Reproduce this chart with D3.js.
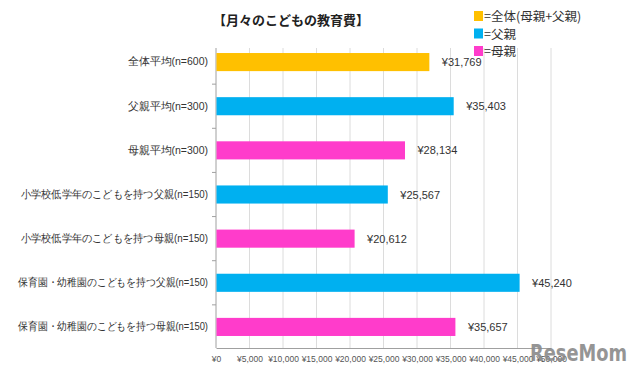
<!DOCTYPE html>
<html><head><meta charset="utf-8">
<script src="https://cdn.jsdelivr.net/npm/d3@7"></script>
<style>
body{margin:0;background:#fff;}
svg{display:block;font-family:"Noto Sans CJK JP","Noto Sans",sans-serif;}
</style></head>
<body><svg id="chart" width="640" height="374"></svg>
<script>
// categories (top to bottom), values in yen, series group
const categories = [
  "全体平均(n=600)",
  "父親平均(n=300)",
  "母親平均(n=300)",
  "小学校低学年のこどもを持つ父親(n=150)",
  "小学校低学年のこどもを持つ母親(n=150)",
  "保育園・幼稚園のこどもを持つ父親(n=150)",
  "保育園・幼稚園のこどもを持つ母親(n=150)"
];
const values = [31769, 35403, 28134, 25567, 20612, 45240, 35657];
const groups = ["all", "father", "mother", "father", "mother", "father", "mother"];
const xTicks = [0, 5000, 10000, 15000, 20000, 25000, 30000, 35000, 40000, 45000, 50000];
const legendItems = [
  {key: "all", label: "=全体(母親+父親)"},
  {key: "father", label: "=父親"},
  {key: "mother", label: "=母親"}
];
const colors = {all: "#FFC000", father: "#00B0F0", mother: "#FF3CCB"};

const svg = d3.select("#chart");
const plotL = 216, plotR = 551, plotT = 40, plotB = 349;

const x = d3.scaleLinear().domain([0, 50000]).range([plotL, plotR]);
const y = d3.scaleBand().domain(categories).range([plotT, plotB]).paddingInner(0.59).paddingOuter(0.295);

// title
svg.append("text")
  .attr("x", 291).attr("y", 25)
  .attr("text-anchor", "middle")
  .attr("font-size", 13).attr("font-weight", "bold").attr("fill", "#222")
  .text("【月々のこどもの教育費】");

// grid
svg.append("g").selectAll("line")
  .data(xTicks.slice(1))
  .join("line")
  .attr("x1", d => x(d)).attr("x2", d => x(d))
  .attr("y1", plotT + 8).attr("y2", plotB - 1)
  .attr("stroke", "#dcdcdc").attr("stroke-width", 1);

// x axis
const xAxis = svg.append("g")
  .attr("transform", `translate(0,${plotB - 1})`)
  .call(d3.axisBottom(x).tickValues(xTicks).tickSize(0).tickPadding(8)
    .tickFormat(d => "¥" + d3.format(",")(d)));
xAxis.select(".domain").attr("stroke", "#a0a0a0");
xAxis.selectAll("text").attr("font-size", 8.5).attr("fill", "#555")
  .attr("font-family", "'Liberation Sans',Arial,sans-serif");

// y axis
const yAxis = svg.append("g")
  .attr("transform", `translate(${plotL},0)`)
  .call(d3.axisLeft(y).tickSize(0).tickPadding(8));
yAxis.select(".domain").attr("stroke", "#a0a0a0").attr("d", `M0,${plotT + 8}V${plotB - 1}`);
yAxis.selectAll("text").attr("font-size", 10.5).attr("fill", "#333")
  .each(function() {
    // long labels are squeezed a bit, like the narrow font of the original
    const len = this.getComputedTextLength();
    if (len > 150) {
      d3.select(this).attr("textLength", Math.min(len * 0.93, 190))
        .attr("lengthAdjust", "spacingAndGlyphs");
    }
  });

// small band ticks
svg.append("g").selectAll("line")
  .data(categories.slice(1))
  .join("line")
  .attr("x1", plotL - 4).attr("x2", plotL)
  .attr("y1", d => y(d) - y.step() * 0.295)
  .attr("y2", d => y(d) - y.step() * 0.295)
  .attr("stroke", "#a0a0a0");

// bars
svg.append("g").selectAll("rect")
  .data(categories)
  .join("rect")
  .attr("x", x(0) + 0.5)
  .attr("y", d => y(d))
  .attr("width", (d, i) => x(values[i]) - x(0))
  .attr("height", y.bandwidth())
  .attr("fill", (d, i) => colors[groups[i]]);

// value labels
svg.append("g").selectAll("text")
  .data(categories)
  .join("text")
  .attr("x", (d, i) => x(values[i]) + 13)
  .attr("y", d => y(d) + y.bandwidth() / 2 + 4)
  .attr("font-size", 11).attr("fill", "#333")
  .attr("font-family", "'Liberation Sans',Arial,sans-serif")
  .text((d, i) => "¥" + d3.format(",")(values[i]));

// legend
const lg = svg.append("g").attr("transform", "translate(474,0)");
legendItems.forEach((it, i) => {
  const yy = 11 + i * 17.5;
  lg.append("rect").attr("x", 0).attr("y", yy).attr("width", 9).attr("height", 10)
    .attr("fill", colors[it.key]);
  lg.append("text").attr("x", 10).attr("y", yy + 10)
    .attr("font-size", 12.5).attr("fill", "#333").text(it.label);
});

// watermark
svg.append("text")
  .attr("x", 530).attr("y", 361)
  .attr("font-size", 23).attr("font-weight", "bold").attr("fill", "#8a8a8a")
  .attr("font-family", "'DejaVu Sans',sans-serif").attr("opacity", 0.9)
  .attr("textLength", 97).attr("lengthAdjust", "spacingAndGlyphs")
  .text("ReseMom");
</script>
</body></html>
